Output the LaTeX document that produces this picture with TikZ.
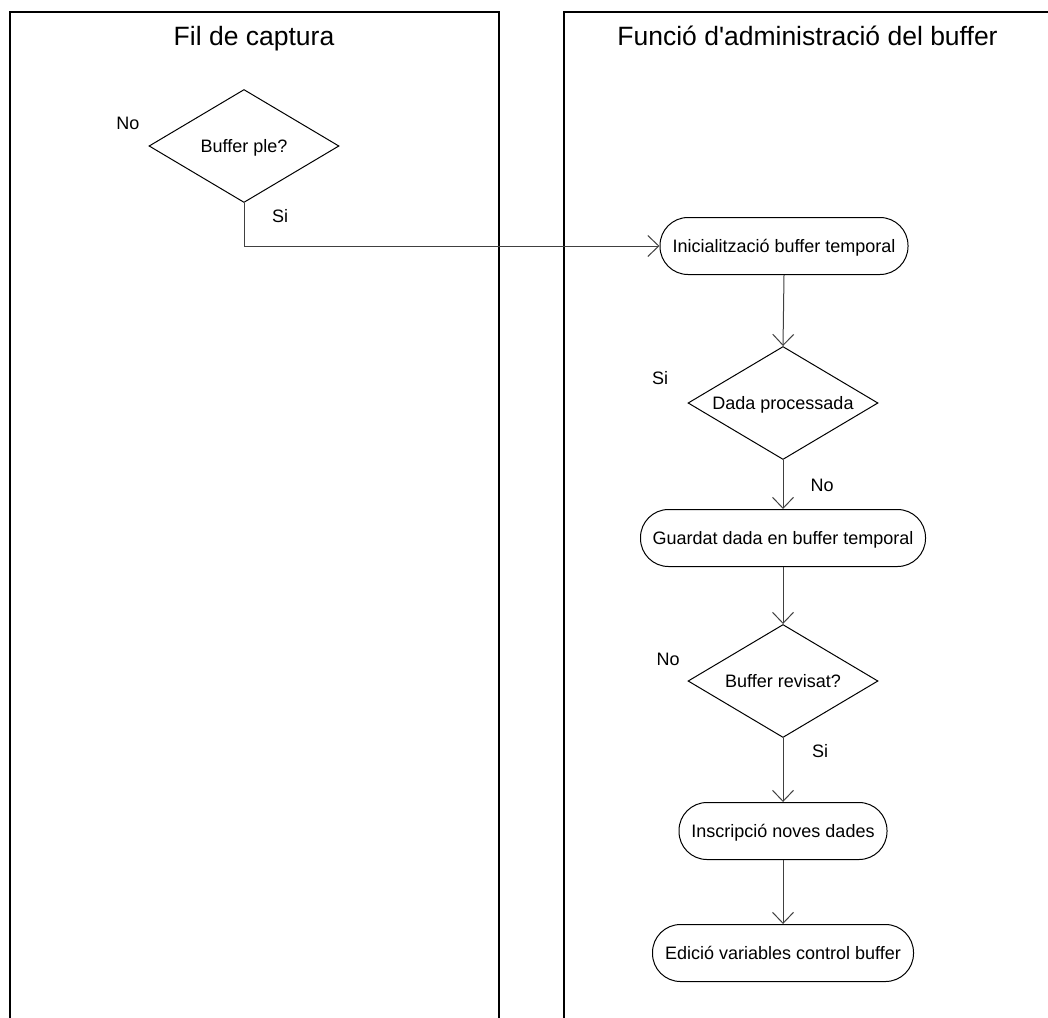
\documentclass[tikz,border=0pt]{standalone}
\usepackage{fontspec}
\setmainfont{Liberation Sans}
\usetikzlibrary{shapes.geometric,arrows.meta}
\begin{document}
\begin{tikzpicture}[x=1pt,y=-1pt,
  lane/.style={line width=1.6pt,black},
  title/.style={font=\fontsize{26.5}{30}\selectfont,anchor=base,inner sep=0pt},
  lbl/.style={font=\fontsize{18}{20}\selectfont,inner sep=0pt,anchor=center},
  decision/.style={draw,line width=1pt,diamond,aspect=1.68,inner sep=0pt,minimum width=190pt,minimum height=113pt,
    font=\fontsize{18}{20}\selectfont,text height=12.9pt,text depth=0pt},
  action/.style={draw,line width=1pt,rectangle,rounded corners=28pt,inner sep=0pt,minimum height=57pt,
    font=\fontsize{18}{20}\selectfont,text height=12.9pt,text depth=0pt},
  conn/.style={line width=1pt,draw=black!75,-{Straight Barb[length=11pt,width=21pt,line width=1pt]}}]
\useasboundingbox (0,0) rectangle (1048,1017);
\clip (0,0) rectangle (1048,1017);
% swimlanes
\draw[lane] (10,1030) -- (10,12) -- (499,12) -- (499,1030);
\draw[lane] (564,1030) -- (564,12) -- (1060,12);
\node[title] (t1) at (254,45) {Fil de captura};
\node[title] (t2) at (807.5,45) {Funció d\textquotesingle administració del buffer};
% nodes
\node[decision] (d1) at (244,146) {Buffer ple?};
\node[action,minimum width=248pt] (ini) at (784,246) {Inicialització buffer temporal};
\node[decision] (d2) at (783,403) {Dada processada};
\node[action,minimum width=285pt] (gua) at (783,538) {Guardat dada en buffer temporal};
\node[decision] (d3) at (783,681) {Buffer revisat?};
\node[action,minimum width=208pt] (ins) at (783,831) {Inscripció noves dades};
\node[action,minimum width=261pt] (edi) at (783,953) {Edició variables control buffer};
% labels
\node[lbl] (l1) at (128,123) {No};
\node[lbl] (l2) at (280,216) {Si};
\node[lbl] (l3) at (660,378) {Si};
\node[lbl] (l4) at (822,485) {No};
\node[lbl] (l5) at (668,659) {No};
\node[lbl] (l6) at (820,751) {Si};
% connectors
\draw[conn] (d1.south) |- (ini.west);
\draw[conn] (ini.south) -- (d2.north);
\draw[conn] (d2.south) -- (gua.north);
\draw[conn] (gua.south) -- (d3.north);
\draw[conn] (d3.south) -- (ins.north);
\draw[conn] (ins.south) -- (edi.north);
\end{tikzpicture}
\end{document}
